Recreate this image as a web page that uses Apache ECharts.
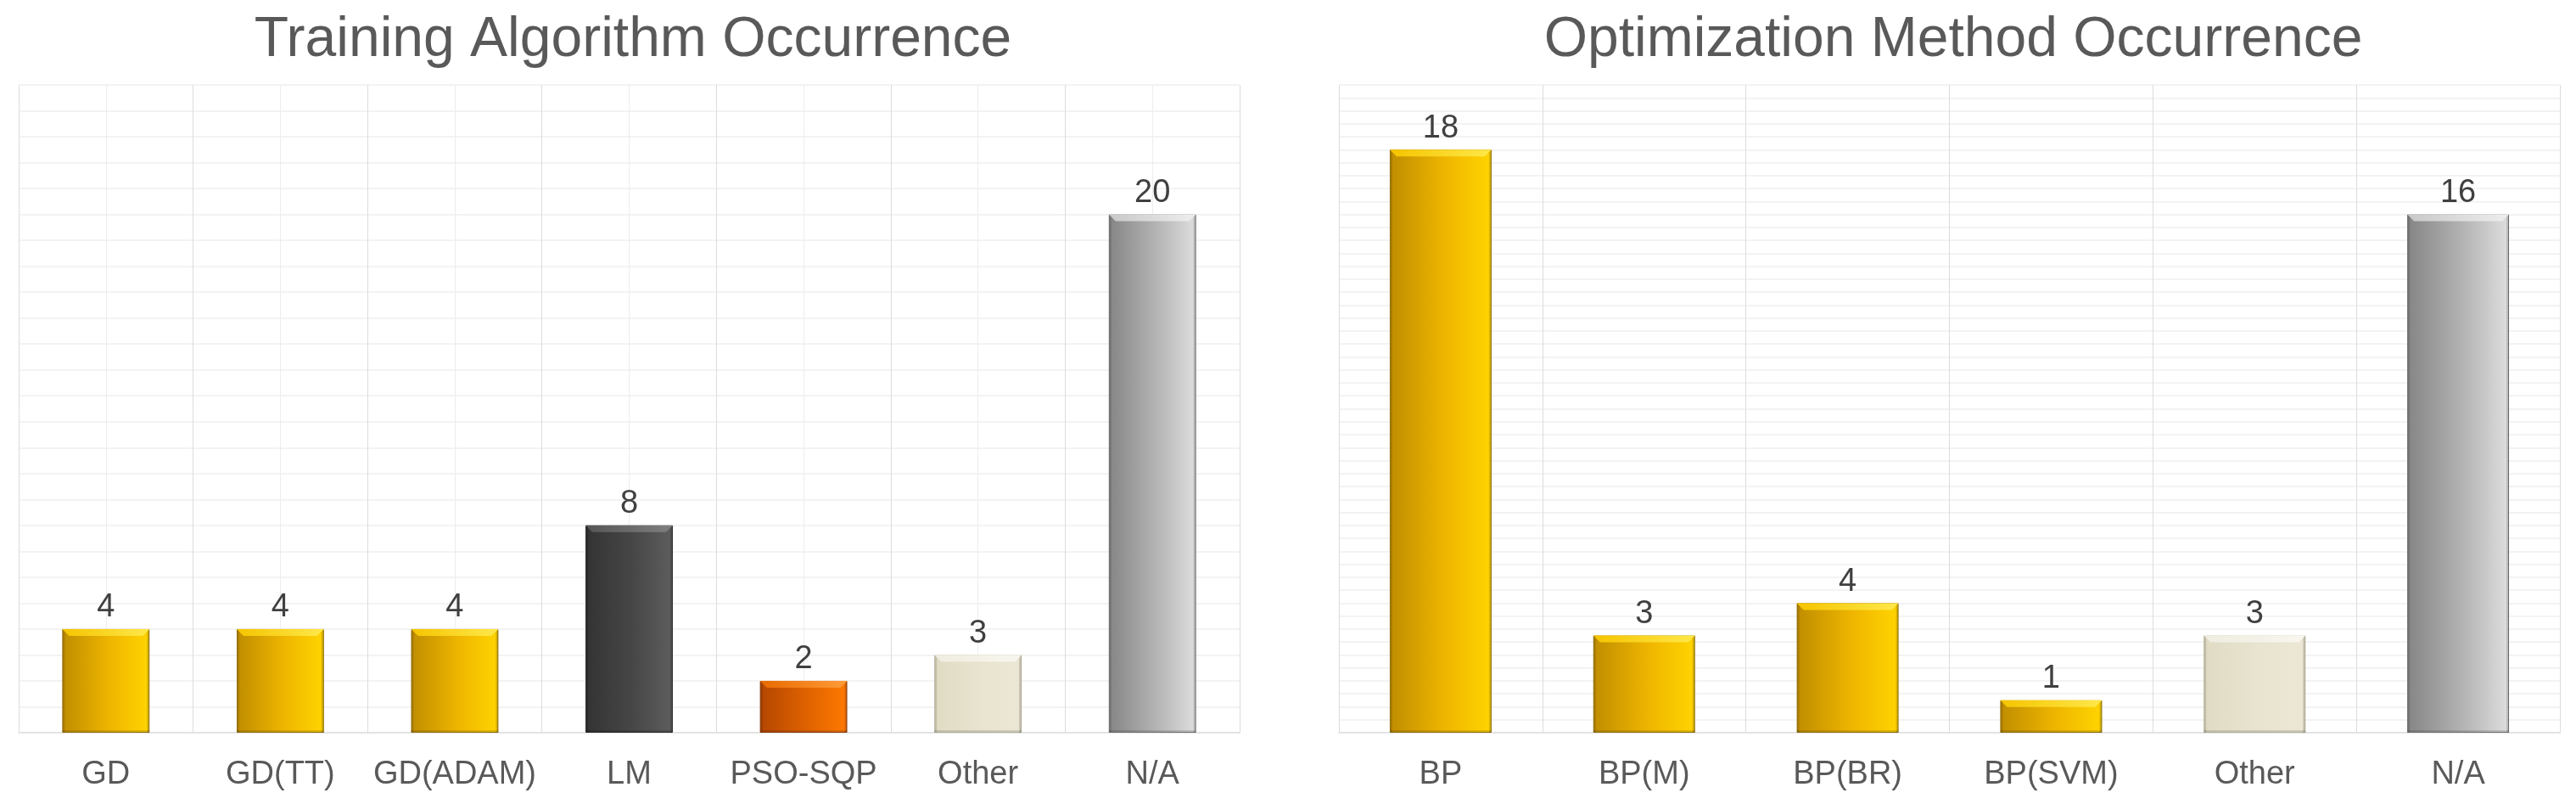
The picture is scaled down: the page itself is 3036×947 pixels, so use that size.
<!DOCTYPE html>
<html>
<head>
<meta charset="utf-8">
<script src="https://cdn.jsdelivr.net/npm/echarts@6/dist/echarts.min.js"></script>
<style>html,body{margin:0;padding:0;background:#fff;}#c{width:3036px;height:947px;}</style>
</head>
<body>
<div id="c"></div>
<script>
// ---- data ----
const trainTitle = 'Training Algorithm Occurrence';
const trainCats = ['GD', 'GD(TT)', 'GD(ADAM)', 'LM', 'PSO-SQP', 'Other', 'N/A'];
const trainVals = [4, 4, 4, 8, 2, 3, 20];
const trainKinds = ['gold', 'gold', 'gold', 'dark', 'orange', 'beige', 'gray'];

const optTitle = 'Optimization Method Occurrence';
const optCats = ['BP', 'BP(M)', 'BP(BR)', 'BP(SVM)', 'Other', 'N/A'];
const optVals = [18, 3, 4, 1, 3, 16];
const optKinds = ['gold', 'gold', 'gold', 'gold', 'beige', 'gray'];

const trainMax = 25;
const optMax = 20;

// ---- styles ----
const palette = {
  gold:   {l: '#bf8d00', m: '#efb600', r: '#ffd500', top1: '#f5c400', top2: '#ffe84a', edge: '#a37a00'},
  dark:   {l: '#333333', m: '#474747', r: '#5e5e5e', top1: '#555555', top2: '#808080', edge: '#2a2a2a'},
  orange: {l: '#b44600', m: '#e06300', r: '#ff7a00', top1: '#e86a00', top2: '#ff9c3a', edge: '#9a3c00'},
  beige:  {l: '#e0dbc3', m: '#e8e4d0', r: '#ebe7d4', top1: '#efece0', top2: '#f8f6ee', edge: '#c9c3a8'},
  gray:   {l: '#858585', m: '#b4b4b4', r: '#dedede', top1: '#c8c8c8', top2: '#eeeeee', edge: '#7a7a7a'}
};
function grad(p) {
  return new echarts.graphic.LinearGradient(0, 0, 1, 0, [
    {offset: 0, color: p.l}, {offset: 0.55, color: p.m}, {offset: 1, color: p.r}
  ]);
}
const FONT = '"Liberation Sans", Arial, sans-serif';
const textColor = '#595959';

function barData(vals, kinds) {
  return vals.map((v, i) => ({
    value: v,
    itemStyle: {color: grad(palette[kinds[i]]), borderColor: palette[kinds[i]].edge, borderWidth: 1}
  }));
}

function bevelSeries(xIdx, yIdx, vals, kinds) {
  return {
    type: 'custom', xAxisIndex: xIdx, yAxisIndex: yIdx, silent: true, z: 5,
    data: vals.map((v, i) => [i, v]),
    renderItem: function (params, api) {
      const i = api.value(0);
      const top = api.coord([i, api.value(1)]);
      const bot = api.coord([i, 0]);
      const w = api.size([1, 0])[0] * 0.5;
      const x0 = top[0] - w / 2, x1 = top[0] + w / 2;
      const y0 = top[1], y1 = bot[1];
      const b = 8;
      const p = palette[kinds[i]];
      return {
        type: 'group',
        children: [
          {type: 'polygon', shape: {points: [[x0, y0], [x1, y0], [x1 - b, y0 + b], [x0 + b, y0 + b]]},
            style: {fill: new echarts.graphic.LinearGradient(0, 0, 1, 0, [{offset: 0, color: p.top1}, {offset: 1, color: p.top2}])}},
          {type: 'polygon', shape: {points: [[x0, y0], [x0 + 3, y0 + 3], [x0 + 3, y1], [x0, y1]]},
            style: {fill: 'rgba(0,0,0,0.12)'}},
          {type: 'polygon', shape: {points: [[x1, y0], [x1 - 3, y0 + 3], [x1 - 3, y1], [x1, y1]]},
            style: {fill: 'rgba(0,0,0,0.15)'}},
          {type: 'rect', shape: {x: x0, y: y1 - 3, width: w, height: 3},
            style: {fill: 'rgba(0,0,0,0.12)'}}
        ]
      };
    }
  };
}

const hLine = {show: true, lineStyle: {color: '#f3f3f3', width: 2}};

const option = {
  backgroundColor: '#ffffff',
  animation: false,
  textStyle: {fontFamily: FONT},
  title: [
    {text: trainTitle, left: 741, top: 10, textAlign: 'center',
      textStyle: {fontSize: 66, fontWeight: 'normal', color: textColor, fontFamily: FONT}},
    {text: optTitle, left: 2297, top: 10, textAlign: 'center',
      textStyle: {fontSize: 66, fontWeight: 'normal', color: textColor, fontFamily: FONT}}
  ],
  grid: [
    {left: 22, right: 1575, top: 100, bottom: 84},
    {left: 1578, right: 19, top: 100, bottom: 84}
  ],
  xAxis: [
    {type: 'category', gridIndex: 0, data: trainCats,
      axisLine: {show: true, lineStyle: {color: '#e3e3e3', width: 2}}, axisTick: {show: false},
      axisLabel: {fontSize: 38, color: textColor, margin: 31, fontFamily: FONT, interval: 0}, splitLine: {show: false}},
    {type: 'value', gridIndex: 0, min: 0, max: trainCats.length, interval: 1, position: 'top',
      axisLine: {show: false}, axisTick: {show: false}, axisLabel: {show: false},
      splitLine: {show: true, lineStyle: {color: '#dcdcdc', width: 1}},
      minorTick: {show: false, splitNumber: 2},
      minorSplitLine: {show: true, lineStyle: {color: '#ededed', width: 1}}},
    {type: 'category', gridIndex: 1, data: optCats,
      axisLine: {show: true, lineStyle: {color: '#e3e3e3', width: 2}}, axisTick: {show: false},
      axisLabel: {fontSize: 38, color: textColor, margin: 31, fontFamily: FONT, interval: 0}, splitLine: {show: false}},
    {type: 'value', gridIndex: 1, min: 0, max: optCats.length, interval: 1, position: 'top',
      axisLine: {show: false}, axisTick: {show: false}, axisLabel: {show: false},
      splitLine: {show: true, lineStyle: {color: '#dcdcdc', width: 1}}}
  ],
  yAxis: [
    {type: 'value', gridIndex: 0, min: 0, max: trainMax, interval: 5,
      axisLine: {show: false}, axisTick: {show: false}, axisLabel: {show: false},
      splitLine: hLine, minorTick: {show: false, splitNumber: 5}, minorSplitLine: hLine},
    {type: 'value', gridIndex: 1, min: 0, max: optMax, interval: 2,
      axisLine: {show: false}, axisTick: {show: false}, axisLabel: {show: false},
      splitLine: hLine, minorTick: {show: false, splitNumber: 5}, minorSplitLine: hLine}
  ],
  series: [
    {type: 'bar', xAxisIndex: 0, yAxisIndex: 0, barWidth: '50%', z: 3,
      data: barData(trainVals, trainKinds),
      label: {show: true, position: 'top', distance: 6, fontSize: 38, color: '#404040', fontFamily: FONT}},
    bevelSeries(0, 0, trainVals, trainKinds),
    {type: 'bar', xAxisIndex: 2, yAxisIndex: 1, barWidth: '50%', z: 3,
      data: barData(optVals, optKinds),
      label: {show: true, position: 'top', distance: 6, fontSize: 38, color: '#404040', fontFamily: FONT}},
    bevelSeries(2, 1, optVals, optKinds)
  ]
};

const chart = echarts.init(document.getElementById('c'), null, {renderer: 'canvas'});
chart.setOption(option);
</script>
</body>
</html>
